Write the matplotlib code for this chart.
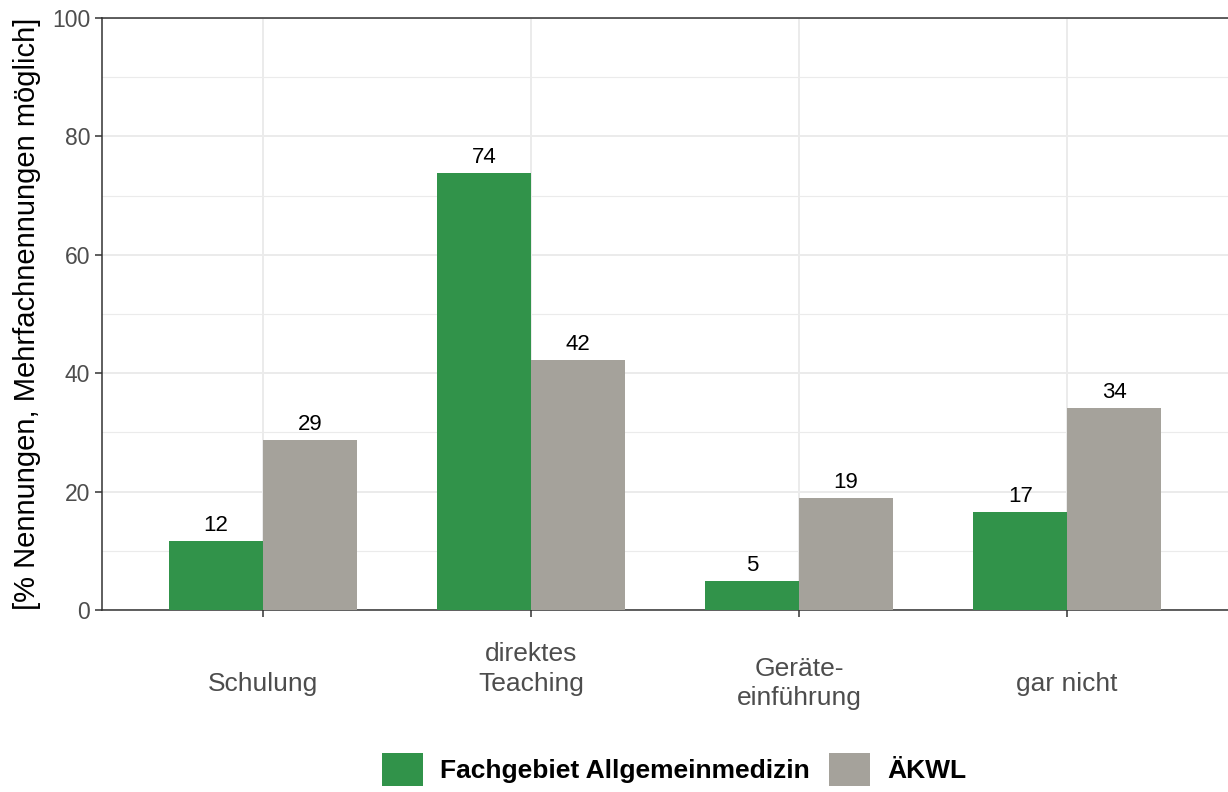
import numpy as np
import matplotlib
matplotlib.use("Agg")
import matplotlib.pyplot as plt

plt.rcParams['font.family'] = ['Liberation Sans', 'DejaVu Sans']

# data
categories = ["Schulung", "direktes\nTeaching\n", "Geräte-\neinführung", "gar nicht"]
fachgebiet = [11.7, 73.8, 4.9, 16.5]
akwl = [28.7, 42.2, 18.9, 34.1]
fachgebiet_labels = ["12", "74", "5", "17"]
akwl_labels = ["29", "42", "19", "34"]
series_names = ["Fachgebiet Allgemeinmedizin", "ÄKWL"]

green = "#31934A"
grey = "#A5A29B"

fig = plt.figure(figsize=(12.28, 7.92), dpi=100)
ax = fig.add_axes([102 / 1228, 1 - 610 / 792, 1 - 102 / 1228, (610 - 18) / 792])

x = np.arange(len(categories))
w = 0.35

b1 = ax.bar(x - w / 2, fachgebiet, width=w, color=green, label=series_names[0], zorder=3)
b2 = ax.bar(x + w / 2, akwl, width=w, color=grey, label=series_names[1], zorder=3)

for bars, labs in [(b1, fachgebiet_labels), (b2, akwl_labels)]:
    for rect, lab in zip(bars, labs):
        ax.annotate(lab, (rect.get_x() + rect.get_width() / 2, rect.get_height()),
                    xytext=(0, 3.5), textcoords="offset points",
                    ha="center", va="bottom", fontsize=16, color="black")

ax.set_xlim(-0.6, 3.6)
ax.set_ylim(0, 100)
ax.set_yticks(np.arange(0, 101, 20))
ax.set_yticks(np.arange(10, 100, 20), minor=True)
ax.set_xticks(x)
ax.set_xticklabels(categories)

ax.grid(True, which="major", color="#EBEBEB", linewidth=1.4, zorder=0)
ax.grid(True, which="minor", axis="y", color="#EBEBEB", linewidth=0.8, zorder=0)
ax.tick_params(axis="y", which="minor", length=0)
ax.tick_params(axis="both", which="major", colors="#333333", length=5, width=1.1,
               labelcolor="#4D4D4D", labelsize=16.5)
ax.tick_params(axis="x", labelsize=19, pad=48)
for lab in ax.get_xticklabels():
    lab.set_va("center")
    lab.set_linespacing(1.3)

for side in ["left", "bottom", "top"]:
    ax.spines[side].set_color("#333333")
    ax.spines[side].set_linewidth(1.1)
ax.spines["right"].set_visible(False)

ax.set_ylabel("[% Nennungen, Mehrfachnennungen möglich]", fontsize=21, color="black", labelpad=8)

fig.legend(handles=[b1, b2], labels=series_names, loc="upper center",
           bbox_to_anchor=(0.549, 1 - 740 / 792), ncol=2, frameon=False,
           prop={"weight": "bold", "size": 19}, handlelength=1.55, handleheight=1.55,
           handletextpad=0.65, columnspacing=0.75, borderpad=0)

fig.savefig("out.png", dpi=100)
